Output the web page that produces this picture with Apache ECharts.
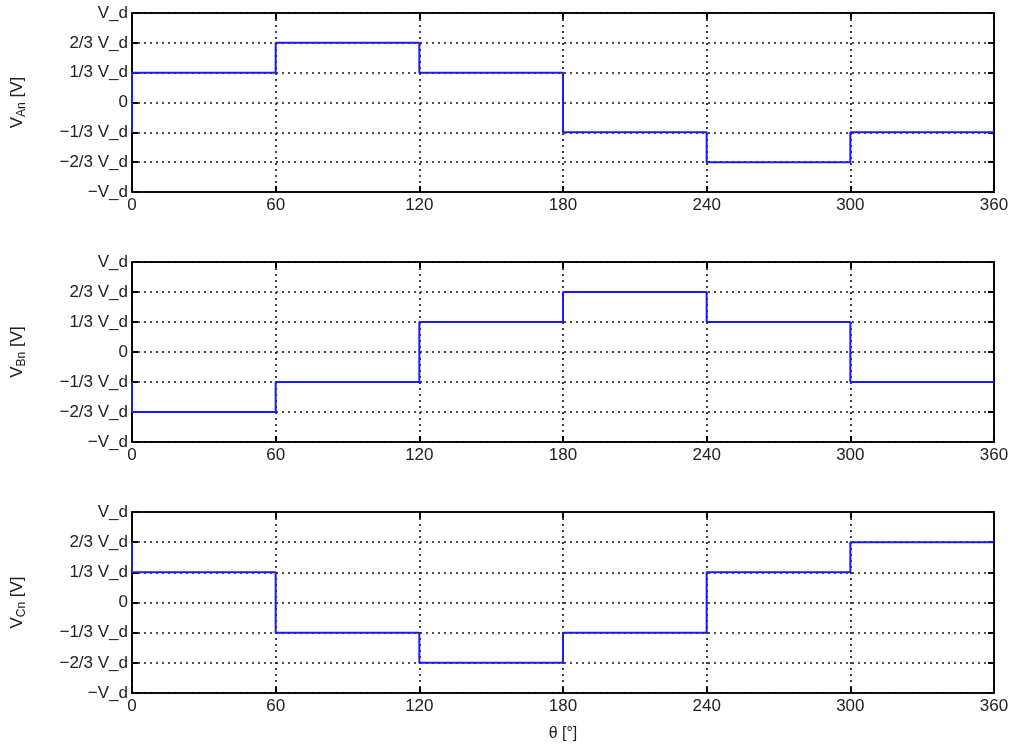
<!DOCTYPE html>
<html>
<head>
<meta charset="utf-8">
<script src="https://cdn.jsdelivr.net/npm/echarts@6/dist/echarts.min.js"></script>
<style>
html,body{margin:0;padding:0;background:#fff;}
#chart{width:1013px;height:748px;}
</style>
</head>
<body>
<div id="chart"></div>
<script>
// Data (values in units of V_d/3)
var edges = [0, 60, 120, 180, 240, 300, 360];
var vAn = [1, 2, 1, -1, -2, -1];
var vBn = [-2, -1, 1, 2, 1, -1];
var vCn = [1, -1, -2, -1, 1, 2];
var startAn = -1, startBn = -1, startCn = 2;
var yTickValues = [-3, -2, -1, 0, 1, 2, 3];
var yTickLabels = ['\u2212V_d', '\u22122/3 V_d', '\u22121/3 V_d', '0', '1/3 V_d', '2/3 V_d', 'V_d'];
var xTicks = [0, 60, 120, 180, 240, 300, 360];
var yNames = [['V', 'An'], ['V', 'Bn'], ['V', 'Cn']];
var xName = '\u03b8 [\u00b0]';

function stepPoints(start, vals) {
  var pts = [[edges[0], start]];
  for (var i = 0; i < vals.length; i++) {
    pts.push([edges[i], vals[i]]);
    pts.push([edges[i + 1], vals[i]]);
  }
  return pts;
}

var series = [stepPoints(startAn, vAn), stepPoints(startBn, vBn), stepPoints(startCn, vCn)];
var grids = [
  {left: 132, right: 19, top: 13, height: 179},
  {left: 132, right: 19, top: 262, height: 180},
  {left: 132, right: 19, top: 512, height: 181}
];
var font = 'Liberation Sans, Arial, sans-serif';
var txt = '#222';
var fs = 17;
var splitStyle = {show: true, lineStyle: {color: '#111', width: 1.6, type: [2, 4]}};
var lineAx = {show: true, onZero: false, lineStyle: {color: '#000', width: 1.6}};
var tickAx = {show: true, inside: true, length: 6, lineStyle: {color: '#000', width: 2}};

var opt = {
  animation: false,
  backgroundColor: '#fff',
  grid: grids.map(function (g) { return Object.assign({show: true, borderColor: '#000', borderWidth: 1.6, backgroundColor: 'transparent'}, g); }),
  xAxis: [], yAxis: [], series: []
};

for (var k = 0; k < 3; k++) {
  opt.xAxis.push({
    type: 'value', gridIndex: k, min: 0, max: 360, interval: 60, position: 'bottom',
    name: k === 2 ? xName : '', nameLocation: 'middle', nameGap: 33,
    nameTextStyle: {color: txt, fontFamily: font, fontSize: 16},
    axisLine: lineAx, axisTick: tickAx,
    axisLabel: {color: txt, fontFamily: font, fontSize: fs, margin: 5,
      formatter: function (v) { return xTicks.indexOf(v) >= 0 ? String(v) : ''; }},
    splitLine: splitStyle
  });
  opt.xAxis.push({
    type: 'value', gridIndex: k, min: 0, max: 360, interval: 60, position: 'top',
    axisLine: lineAx, axisTick: tickAx,
    axisLabel: {show: false}, splitLine: {show: false}
  });
  opt.yAxis.push({
    type: 'value', gridIndex: k, min: -3, max: 3, interval: 1, position: 'left',
    name: '{v|' + yNames[k][0] + '}{s|' + yNames[k][1] + '}{v| [V]}',
    nameLocation: 'middle', nameGap: 104, nameRotate: 90,
    nameTextStyle: {rich: {
      v: {color: txt, fontFamily: font, fontSize: 17},
      s: {color: txt, fontFamily: font, fontSize: 12, verticalAlign: 'bottom', padding: [10, 0, 0, 0]}
    }},
    axisLine: lineAx, axisTick: tickAx,
    axisLabel: {color: txt, fontFamily: font, fontSize: fs, margin: 4,
      formatter: function (v) { var i = yTickValues.indexOf(v); return i >= 0 ? yTickLabels[i] : ''; }},
    splitLine: splitStyle
  });
  opt.yAxis.push({
    type: 'value', gridIndex: k, min: -3, max: 3, interval: 1, position: 'right',
    axisLine: lineAx, axisTick: tickAx,
    axisLabel: {show: false}, splitLine: {show: false}
  });
  opt.series.push({
    type: 'line', xAxisIndex: 2 * k, yAxisIndex: 2 * k, data: series[k],
    showSymbol: false, symbol: 'none', lineStyle: {color: '#1a1aff', width: 2}, z: 5
  });
}

var chart = echarts.init(document.getElementById('chart'), null, {renderer: 'canvas'});
chart.setOption(opt);
</script>
</body>
</html>
